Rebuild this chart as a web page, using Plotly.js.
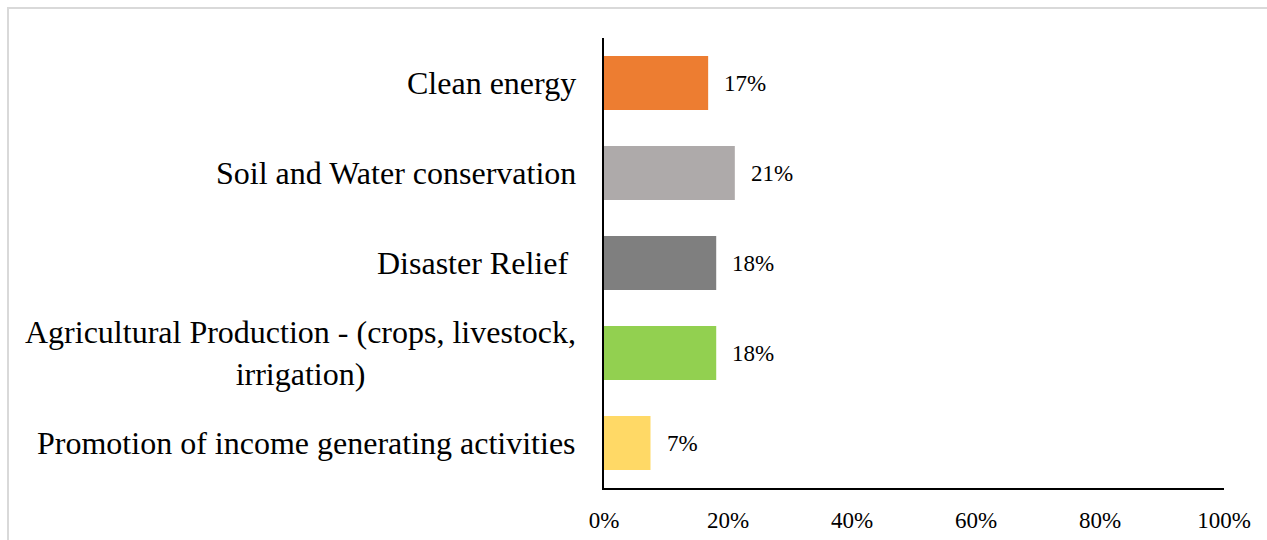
<!DOCTYPE html>
<html>
<head>
<meta charset="utf-8">
<script src="https://cdn.plot.ly/plotly-3.0.1.min.js"></script>
<style>
  html, body { margin: 0; padding: 0; background: #fff; overflow: hidden; }
  #wrap { position: relative; width: 1267px; height: 540px; overflow: hidden; }
  #chart { position: absolute; left: 0; top: 0; width: 1267px; height: 540px; }
  #frame { position: absolute; left: 7px; top: 7px; width: 1400px; height: 700px;
           border: 2px solid #d9d9d9; pointer-events: none; }
</style>
</head>
<body>
<div id="wrap">
  <div id="chart"></div>
  <div id="frame"></div>
</div>
<script>
const categories = [
  "Clean energy",
  "Soil and Water conservation",
  "Disaster Relief ",
  "Agricultural Production - (crops, livestock,<br>irrigation)",
  "Promotion of income generating activities"
];
const values = [16.8, 21.1, 18.1, 18.1, 7.5];
const valueLabels = ["17%", "21%", "18%", "18%", "7%"];
const colors = ["#ED7D31", "#AEAAAA", "#7F7F7F", "#92D050", "#FFD966"];
const xTickVals = [0, 20, 40, 60, 80, 100];
const xTickText = ["0%", "20%", "40%", "60%", "80%", "100%"];

const FONT = '"Liberation Serif", "Times New Roman", Times, serif';

const trace = {
  type: 'bar',
  orientation: 'h',
  y: categories,
  x: values,
  width: 0.6,
  marker: { color: colors, line: { width: 0 } },
  hoverinfo: 'skip'
};

const valueAnnotations = categories.map((c, i) => ({
  x: values[i], y: c, xref: 'x', yref: 'y',
  text: valueLabels[i], showarrow: false,
  xanchor: 'left', yanchor: 'middle', xshift: 14,
  font: { family: FONT, size: 23, color: '#000' }
}));

const categoryAnnotations = categories.map((c) => ({
  x: 0, y: c, xref: 'paper', yref: 'y',
  text: c, showarrow: false, align: 'center',
  xanchor: 'right', yanchor: 'middle', xshift: -26,
  font: { family: FONT, size: 32, color: '#000' }
}));

const layout = {
  width: 1267, height: 540,
  margin: { l: 604, r: 43, t: 38, b: 52, pad: 0 },
  paper_bgcolor: '#fff', plot_bgcolor: '#fff',
  showlegend: false,
  font: { family: FONT, color: '#000' },
  xaxis: {
    range: [0, 100],
    tickvals: xTickVals, ticktext: xTickText,
    showgrid: false, zeroline: false,
    showline: true, linecolor: '#000', linewidth: 2,
    ticks: '', ticklabelstandoff: 10,
    tickfont: { family: FONT, size: 23, color: '#000' },
    fixedrange: true
  },
  yaxis: {
    type: 'category',
    autorange: 'reversed',
    showgrid: false, zeroline: false,
    showline: true, linecolor: '#000', linewidth: 2,
    ticks: '', showticklabels: false,
    fixedrange: true
  },
  annotations: valueAnnotations.concat(categoryAnnotations)
};

Plotly.newPlot('chart', [trace], layout, { staticPlot: true, displayModeBar: false });
</script>
</body>
</html>
